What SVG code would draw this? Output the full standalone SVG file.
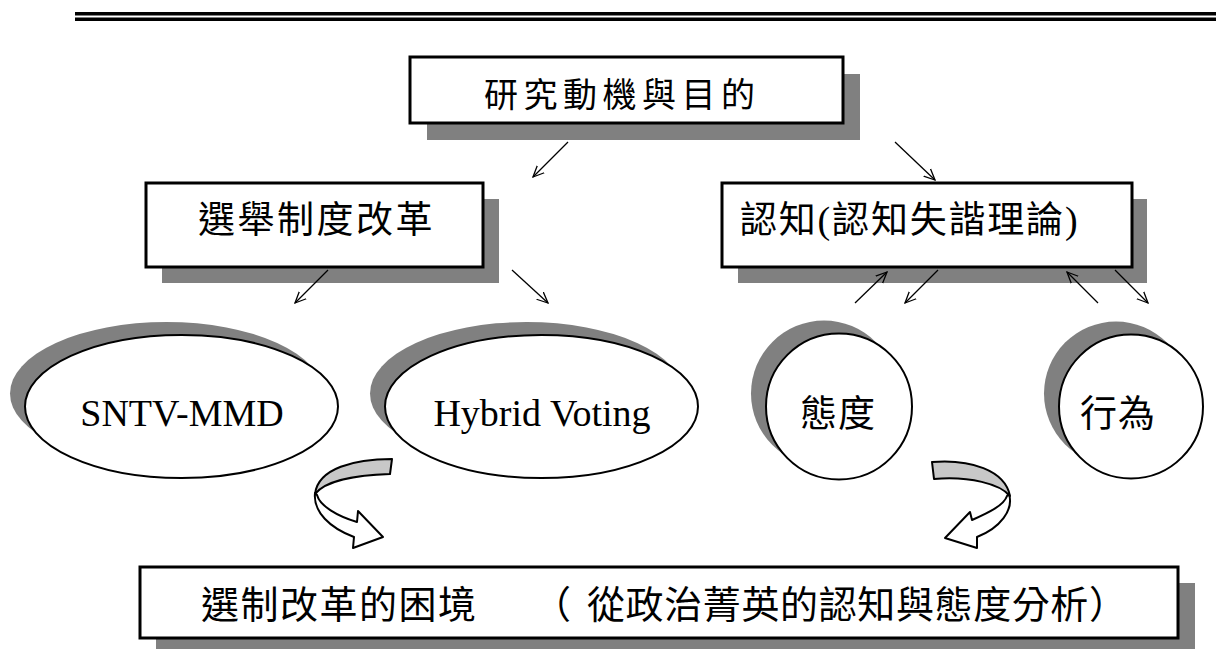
<svg xmlns="http://www.w3.org/2000/svg" width="1216" height="649" viewBox="0 0 1216 649">
<defs>
<marker id="ah" viewBox="0 0 12 12" refX="11" refY="6" markerWidth="12" markerHeight="12" markerUnits="userSpaceOnUse" orient="auto">
<path d="M0,1 L11,6 L0,11" fill="none" stroke="#000" stroke-width="1.3"/>
</marker>
<style>
.box{fill:#fff;stroke:#000;stroke-width:3}
.shadow{fill:#808080;stroke:none}
.oval{fill:#fff;stroke:#000;stroke-width:2}
.cjk{font-family:"Noto Sans CJK TC","Noto Sans CJK SC",sans-serif;fill:#000}
.lat{font-family:"Liberation Serif",serif;fill:#000}
.conn line{stroke:#000;stroke-width:1.3;marker-end:url(#ah)}
.band{fill:#c8c8c8;stroke:#000;stroke-width:2;stroke-linejoin:round}
.shaft{fill:#fff;stroke:#000;stroke-width:2;stroke-linejoin:round}
</style>
</defs>
<rect width="1216" height="649" fill="#fff"/>
<g id="header">
<rect x="75" y="12" width="1141" height="3.5" fill="#000"/>
<rect x="75" y="17.5" width="1141" height="3.5" fill="#000"/>
</g>
<g id="node-top">
<rect class="shadow" x="427" y="74" width="433" height="66"/>
<rect class="box" x="410" y="57" width="433" height="66"/>
<text class="cjk" x="484" y="107" font-size="34" letter-spacing="5.5">研究動機與目的</text>
</g>
<g id="node-left">
<rect class="shadow" x="162" y="199" width="337" height="84"/>
<rect class="box" x="146" y="183" width="337" height="84"/>
<text class="cjk" x="198" y="233" font-size="37" letter-spacing="2.5">選舉制度改革</text>
</g>
<g id="node-right">
<rect class="shadow" x="738" y="199" width="409" height="84"/>
<rect class="box" x="722" y="183" width="410" height="84"/>
<text class="cjk" x="740" y="233" font-size="37" letter-spacing="1.8">認知<tspan class="lat" font-size="38">(</tspan>認知失諧理論<tspan class="lat" font-size="38">)</tspan></text>
</g>
<g id="node-sntv">
<ellipse class="shadow" cx="166.5" cy="393.5" rx="156.5" ry="71.5"/>
<ellipse class="oval" cx="181.5" cy="406.5" rx="156.5" ry="71.5"/>
<text class="lat" x="182" y="426" font-size="38" text-anchor="middle">SNTV-MMD</text>
</g>
<g id="node-hybrid">
<ellipse class="shadow" cx="526.5" cy="393.5" rx="156.5" ry="71.5"/>
<ellipse class="oval" cx="541.5" cy="406.5" rx="156.5" ry="71.5"/>
<text class="lat" x="542" y="426" font-size="38" text-anchor="middle">Hybrid Voting</text>
</g>
<g id="node-attitude">
<circle class="shadow" cx="824" cy="393.5" r="73"/>
<circle class="oval" cx="839" cy="406.5" r="73"/>
<text class="cjk" x="838" y="427" font-size="37" text-anchor="middle" letter-spacing="1">態度</text>
</g>
<g id="node-behavior">
<circle class="shadow" cx="1116" cy="393.5" r="72"/>
<circle class="oval" cx="1131" cy="406.5" r="72"/>
<text class="cjk" x="1118" y="427" font-size="37" text-anchor="middle" letter-spacing="1">行為</text>
</g>
<g id="node-bottom">
<rect class="shadow" x="156" y="583" width="1039" height="71"/>
<rect class="box" x="140" y="567" width="1038" height="71"/>
<text class="cjk" x="201" y="618" font-size="38" letter-spacing="1.5">選制改革的困境</text>
<text class="cjk" y="618" font-size="38"><tspan x="533">（</tspan><tspan x="587" textLength="540" lengthAdjust="spacing">從政治菁英的認知與態度分析）</tspan></text>
</g>
<g id="connectors" class="conn">
<line x1="568" y1="142" x2="533" y2="177"/>
<line x1="895" y1="142" x2="935" y2="180"/>
<line x1="328" y1="270" x2="295" y2="303"/>
<line x1="512" y1="270" x2="548" y2="303"/>
<line x1="855" y1="303" x2="887" y2="272"/>
<line x1="938" y1="270" x2="905" y2="303"/>
<line x1="1098" y1="303" x2="1067" y2="272"/>
<line x1="1115" y1="270" x2="1148" y2="303"/>
</g>
<g id="curved-arrow-left">
<path class="shaft" d="M315,493 C313,512 330,528 354,537 L353,548 L383,537 L358,511 L357,522 C337,516 320,506 317,495 Z"/>
<path class="band" d="M392,459 C355,459 318,468 315,494 C325,481 355,475 390,474 Z"/>
</g>
<g id="curved-arrow-right">
<path class="shaft" d="M1009,494 C1014,510 1000,528 977,537 L977,548 L945,538 L970,512 L972,520 C990,512 1004,505 1007,496 Z"/>
<path class="band" d="M932,462 C970,459 1005,470 1010,496 C1000,484 970,476 934,479 Z"/>
</g>
</svg>
